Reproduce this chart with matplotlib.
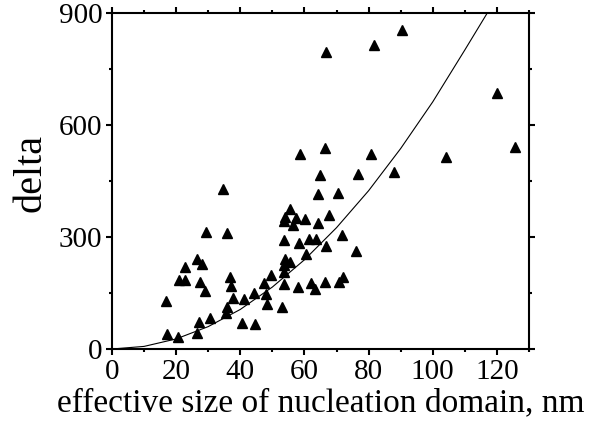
import numpy as np
import matplotlib
matplotlib.use("Agg")
import matplotlib.pyplot as plt
from matplotlib.ticker import MultipleLocator

plt.rcParams['font.family'] = ['Liberation Serif', 'DejaVu Serif']

# measured points: effective size (nm) vs delta
size_nm = [34.5, 29.4, 36.0, 26.5, 28.1, 22.7, 20.9, 22.7, 27.4, 29.0,
           36.8, 37.2, 16.9, 37.6, 41.2, 44.3, 35.7, 35.5, 30.6, 27.1,
           40.6, 44.6, 26.5, 17.0, 20.6,
           58.5, 66.3, 80.6, 65.0, 76.7, 64.2, 70.4, 55.4, 53.8, 57.3,
           60.1, 53.5, 56.3, 67.6, 64.1, 71.6, 53.5, 58.3, 61.3, 63.7,
           66.7, 76.2, 60.5, 53.8, 55.4, 53.5, 53.5, 49.6, 47.5, 53.5,
           58.0, 61.9, 63.2, 66.5, 70.8, 72.1, 48.1, 48.3, 52.9,
           90.5, 81.7, 119.9, 125.7, 104.1, 87.9, 66.6]
delta = [428, 314, 312, 240, 227, 219, 185, 185, 179, 156,
         193, 169, 129, 137, 133, 149, 112, 97, 84, 73,
         69, 68, 44, 40, 33,
         522, 538, 522, 466, 468, 415, 419, 374, 354, 351,
         348, 342, 333, 360, 337, 306, 292, 283, 294, 295,
         276, 263, 254, 242, 234, 225, 207, 199, 176, 174,
         167, 176, 160, 179, 179, 192, 147, 121, 112,
         855, 814, 687, 540, 515, 474, 795]

# fitted curve
fit_x = [0, 10, 20, 30, 40, 50, 60, 70, 80, 90, 100, 110, 117]
fit_y = [0, 7, 27, 60, 106, 166, 239, 325, 424, 537, 662, 801, 900]

fig = plt.figure(figsize=(6.06, 4.32), dpi=100)
ax = fig.add_axes([0.1848, 0.1921, 0.6881, 0.7778])

ax.plot(size_nm, delta, linestyle='none', marker='^', color='black', markersize=6.5)
ax.plot(fit_x, fit_y, color='black', linewidth=0.8)

ax.set_xlim(0, 130)
ax.set_ylim(0, 900)
ax.xaxis.set_major_locator(MultipleLocator(20))
ax.xaxis.set_minor_locator(MultipleLocator(10))
ax.yaxis.set_major_locator(MultipleLocator(300))
ax.yaxis.set_minor_locator(MultipleLocator(150))

for s in ax.spines.values():
    s.set_linewidth(1.5)
ax.tick_params(which='both', direction='out', top=True, right=True, width=1.5)
ax.tick_params(which='major', length=4, labelsize=21, pad=3)
ax.tick_params(which='minor', length=2.5)

ax.set_xlabel("effective size of nucleation domain, nm", fontsize=24, labelpad=2)
ax.set_ylabel("delta", fontsize=29)
ax.yaxis.set_label_coords(-0.15, 0.525)

fig.savefig("out.png", dpi=100)
